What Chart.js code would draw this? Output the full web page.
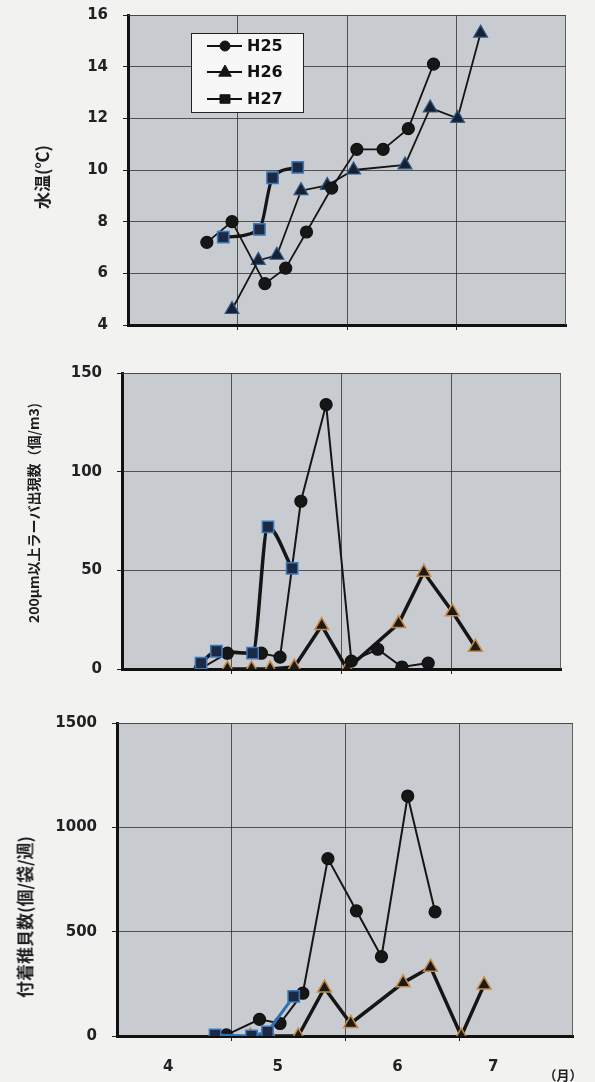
<!DOCTYPE html>
<html><head><meta charset="utf-8">
<script src="https://cdn.jsdelivr.net/npm/chart.js@4.4.0/dist/chart.umd.min.js"></script>
<style>
html,body{margin:0;padding:0;background:#f2f2f1;}
#wrap{position:relative;width:595px;height:1082px;overflow:hidden;background:#f2f2f1;}
canvas{position:absolute;left:0;}
.yt{position:absolute;transform:translate(-50%,-50%) rotate(-90deg);white-space:nowrap;font-family:"Noto Sans CJK JP";font-weight:700;color:#1e1e1e;line-height:1;}
.unit{position:absolute;font-family:"Noto Sans CJK JP";font-weight:700;color:#1e1e1e;font-size:13px;transform:translate(-50%,-50%);white-space:nowrap;}
</style></head><body>
<div id="wrap">
<canvas id="c1" width="595" height="345" style="top:0px"></canvas>
<canvas id="c2" width="595" height="345" style="top:345px"></canvas>
<canvas id="c3" width="595" height="392" style="top:690px"></canvas>
<div class="yt" style="left:41px;top:177px;font-size:17px">水温(℃)</div>
<div class="yt" style="left:33px;top:513px;font-size:14px">200μm以上ラーバ出現数（個/m3)</div>
<div class="yt" style="left:24px;top:917px;font-size:17px">付着稚貝数(個/袋/週)</div>
<div class="unit" style="left:563px;top:1074px">（月）</div>
</div>
<script>
// ---- categories / ticks ----
const seriesNames = ['H25', 'H26', 'H27'];
const monthLabels = ['4', '5', '6', '7'];
const monthLabelPos = [4.45, 5.41, 6.46, 7.30];   // month.fraction where each label sits
const monthGrid = [5, 6, 7];
const xMin = 4, xMax = 8;

// ---- water temperature (℃) ----
const tempTicks = [4, 6, 8, 10, 12, 14, 16];
const tempH25x = [4.72, 4.95, 5.25, 5.44, 5.63, 5.86, 6.09, 6.33, 6.56, 6.79];
const tempH25y = [7.2, 8.0, 5.6, 6.2, 7.6, 9.3, 10.8, 10.8, 11.6, 14.1];
const tempH26x = [4.95, 5.19, 5.36, 5.58, 5.82, 6.06, 6.53, 6.76, 7.01, 7.22];
const tempH26y = [4.6, 6.5, 6.7, 9.2, 9.4, 10.0, 10.2, 12.4, 12.0, 15.3];
const tempH27x = [4.87, 5.20, 5.32, 5.55];
const tempH27y = [7.4, 7.7, 9.7, 10.1];

// ---- larvae >= 200μm (個/m3) ----
const larvaTicks = [0, 50, 100, 150];
const larvaH25x = [4.71, 4.96, 5.27, 5.44, 5.63, 5.86, 6.09, 6.33, 6.55, 6.79];
const larvaH25y = [0, 8, 8, 6, 85, 134, 4, 10, 1, 3];
const larvaH26x = [4.96, 5.18, 5.35, 5.57, 5.82, 6.05, 6.52, 6.75, 7.01, 7.22];
const larvaH26y = [0, 0, 0, 1, 22, 0, 23, 49, 29, 11];
const larvaH27x = [4.72, 4.86, 5.19, 5.33, 5.55];
const larvaH27y = [3, 9, 8, 72, 51];

// ---- attached spat (個/袋/週) ----
const spatTicks = [0, 500, 1000, 1500];
const spatH25x = [4.96, 5.25, 5.43, 5.63, 5.85, 6.10, 6.32, 6.55, 6.79];
const spatH25y = [5, 80, 60, 205, 850, 600, 380, 1150, 595];
const spatH26x = [5.17, 5.34, 5.59, 5.82, 6.05, 6.51, 6.75, 7.02, 7.22];
const spatH26y = [0, 0, 0, 230, 60, 255, 330, 0, 245];
const spatH27x = [4.86, 5.18, 5.32, 5.55];
const spatH27y = [5, 0, 20, 190];

// ---- helpers ----
const pts = (xs, ys) => xs.map((x, i) => ({ x: x, y: ys[i] }));
const gridColor = 'rgba(50,50,50,0.8)';
const clear = 'rgba(0,0,0,0)';
const tickFont = { family: 'DejaVu Sans', weight: 'bold', size: 15 };

function xScale(showLabels, h) {
  return {
    type: 'linear', min: xMin, max: xMax,
    afterBuildTicks: s => {
      const v = showLabels ? monthGrid.concat(monthLabelPos).sort((a, b) => a - b) : monthGrid.slice();
      s.ticks = v.map(t => ({ value: t }));
    },
    afterFit: s => { s.height = h; s.paddingLeft = 0; s.paddingRight = 0; },
    grid: {
      color: c => (c.tick && monthGrid.includes(c.tick.value)) ? gridColor : clear,
      tickColor: c => (c.tick && monthGrid.includes(c.tick.value)) ? '#222' : clear,
      tickLength: 5, lineWidth: 1
    },
    border: { display: true, color: '#111', width: 3 },
    ticks: {
      display: showLabels, autoSkip: false, maxRotation: 0, minRotation: 0, padding: 17,
      font: tickFont, color: '#222',
      callback: v => { const i = monthLabelPos.indexOf(v); return i >= 0 ? monthLabels[i] : ''; }
    }
  };
}
function yScale(ticks, w) {
  return {
    type: 'linear', min: ticks[0], max: ticks[ticks.length - 1],
    afterBuildTicks: s => { s.ticks = ticks.map(v => ({ value: v })); },
    afterFit: s => { s.width = w; s.paddingTop = 0; s.paddingBottom = 0; },
    grid: {
      color: c => (c.tick && c.tick.value === ticks[0]) ? clear : gridColor,
      tickColor: '#222', tickLength: 5, lineWidth: 1
    },
    border: { display: true, color: '#111', width: 3 },
    ticks: { padding: 15, font: tickFont, color: '#222', callback: v => String(v) }
  };
}
const areaPlugin = {
  id: 'areaBg',
  beforeDraw(chart) {
    const a = chart.chartArea, ctx = chart.ctx;
    ctx.save();
    ctx.fillStyle = '#c8cbcf';
    ctx.fillRect(a.left, a.top, a.right - a.left, a.bottom - a.top);
    ctx.restore();
  },
  beforeDatasetsDraw(chart) {
    const a = chart.chartArea, ctx = chart.ctx;
    ctx.save();
    ctx.strokeStyle = 'rgba(70,70,70,0.8)';
    ctx.lineWidth = 1;
    ctx.beginPath();
    ctx.moveTo(a.left, a.top + 0.5); ctx.lineTo(a.right, a.top + 0.5);
    ctx.moveTo(a.right - 0.5, a.top); ctx.lineTo(a.right - 0.5, a.bottom);
    ctx.stroke();
    ctx.restore();
  }
};
function marker(ctx, style, x, y, r, fill, stroke) {
  ctx.save();
  ctx.fillStyle = fill; ctx.strokeStyle = stroke; ctx.lineWidth = 1;
  ctx.beginPath();
  if (style === 'circle') ctx.arc(x, y, r, 0, Math.PI * 2);
  else if (style === 'triangle') { ctx.moveTo(x, y - r); ctx.lineTo(x + r * 0.9, y + r * 0.6); ctx.lineTo(x - r * 0.9, y + r * 0.6); ctx.closePath(); }
  else ctx.rect(x - r, y - r * 0.85, 2 * r, 1.7 * r);
  ctx.fill(); ctx.stroke();
  ctx.restore();
}
const legendPlugin = {
  id: 'boxLegend',
  afterDraw(chart) {
    const ctx = chart.ctx;
    const bx = 191, by = 33, bw = 112, bh = 79;
    ctx.save();
    ctx.fillStyle = '#f7f7f7';
    ctx.fillRect(bx, by, bw, bh);
    ctx.strokeStyle = '#222'; ctx.lineWidth = 1;
    ctx.strokeRect(bx + 0.5, by + 0.5, bw, bh);
    const rows = [46, 72, 99];
    const styles = ['circle', 'triangle', 'rect'];
    const sizes = [5, 7, 5];
    chart.data.datasets.forEach((d, i) => {
      const y = rows[i];
      ctx.strokeStyle = '#111'; ctx.lineWidth = 2;
      ctx.beginPath(); ctx.moveTo(207, y); ctx.lineTo(242, y); ctx.stroke();
      marker(ctx, styles[i], 225, y, sizes[i], '#151515', '#151515');
      ctx.fillStyle = '#111';
      ctx.font = 'bold 16px "DejaVu Sans"';
      ctx.textBaseline = 'middle'; ctx.textAlign = 'left';
      ctx.fillText(d.label, 247, y + 1);
    });
    ctx.restore();
  }
};

function ds(label, data, o) {
  return Object.assign({
    label: label, data: data, showLine: true, borderColor: '#151515', borderWidth: 1.8,
    pointBorderWidth: 1.2, tension: 0
  }, o);
}
const circ = { pointStyle: 'circle', pointRadius: 6, pointBackgroundColor: '#161616', pointBorderColor: '#101010', order: 1 };
const triDark = { pointStyle: 'triangle', pointRadius: 8, pointBackgroundColor: '#17202e', pointBorderColor: '#2e5a8a', order: 2 };
const triOrange = { pointStyle: 'triangle', pointRadius: 8, pointBackgroundColor: '#1a1a1a', pointBorderColor: '#c98a45', pointBorderWidth: 1.5, order: 2 };
const sq = { pointStyle: 'rect', pointRadius: 8, pointBackgroundColor: '#1b2a42', pointBorderColor: '#3c78bd', pointBorderWidth: 1.5, order: 0 };

const common = (yT, yW, xH, showX, pad) => ({
  type: 'scatter',
  options: {
    responsive: false, animation: false, devicePixelRatio: 1,
    layout: { padding: pad },
    plugins: { legend: { display: false }, tooltip: { enabled: false } },
    scales: { x: xScale(showX, xH), y: yScale(yT, yW) }
  }
});

// Chart 1 : water temperature
const c1 = common(tempTicks, 128, 20, false, { left: 0, top: 15, right: 29, bottom: 0 });
c1.data = { datasets: [
  ds(seriesNames[0], pts(tempH25x, tempH25y), circ),
  ds(seriesNames[1], pts(tempH26x, tempH26y), triDark),
  ds(seriesNames[2], pts(tempH27x, tempH27y), Object.assign({}, sq, { borderWidth: 3.2, cubicInterpolationMode: 'monotone' }))
] };
c1.plugins = [areaPlugin, legendPlugin];
new Chart(document.getElementById('c1'), c1);

// Chart 2 : larvae
const c2 = common(larvaTicks, 122, 21, false, { left: 0, top: 28, right: 34, bottom: 0 });
c2.data = { datasets: [
  ds(seriesNames[0], pts(larvaH25x, larvaH25y), Object.assign({}, circ, { borderWidth: 2 })),
  ds(seriesNames[1], pts(larvaH26x, larvaH26y), Object.assign({}, triOrange, { borderWidth: 3.5 })),
  ds(seriesNames[2], pts(larvaH27x, larvaH27y), Object.assign({}, sq, { borderWidth: 3.5, cubicInterpolationMode: 'monotone' }))
] };
c2.plugins = [areaPlugin];
new Chart(document.getElementById('c2'), c2);

// Chart 3 : attached spat
const c3 = common(spatTicks, 117, 46, true, { left: 0, top: 33, right: 22, bottom: 0 });
c3.data = { datasets: [
  ds(seriesNames[0], pts(spatH25x, spatH25y), Object.assign({}, circ, { borderWidth: 2 })),
  ds(seriesNames[1], pts(spatH26x, spatH26y), Object.assign({}, triOrange, { borderWidth: 3.5 })),
  ds(seriesNames[2], pts(spatH27x, spatH27y), Object.assign({}, sq, { borderColor: '#2f6fb6', borderWidth: 3 }))
] };
c3.plugins = [areaPlugin];
new Chart(document.getElementById('c3'), c3);
</script>
</body></html>
